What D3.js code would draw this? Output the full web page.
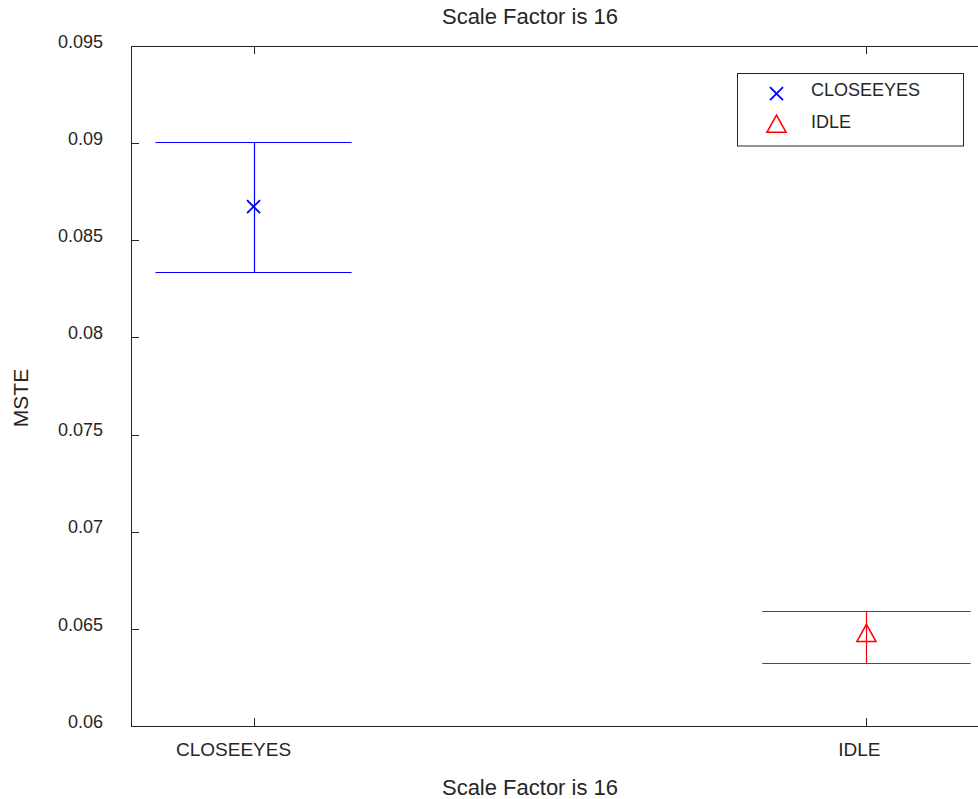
<!DOCTYPE html>
<html>
<head>
<meta charset="utf-8">
<script src="https://cdn.jsdelivr.net/npm/d3@7"></script>
<style>
  html, body { margin: 0; padding: 0; background: #fff; overflow: hidden; }
  svg { display: block; }
  text { font-family: "Liberation Sans", Arial, Helvetica, sans-serif; fill: #262626; }
</style>
</head>
<body>
<svg id="chart" width="978" height="799"></svg>
<script>
// ---- data ----
const categories = ["CLOSEEYES", "IDLE"];
const means = [0.08673, 0.06479];
const upper = [0.09006, 0.06594];
const lower = [0.08337, 0.06326];
const colors = ["#0000ff", "#ff0000"];
const markers = ["x", "triangle"];
const yTicks = [0.06, 0.065, 0.07, 0.075, 0.08, 0.085, 0.09, 0.095];
const yTickLabels = ["0.06", "0.065", "0.07", "0.075", "0.08", "0.085", "0.09", "0.095"];
const titleText = "Scale Factor is 16";
const xLabelText = "Scale Factor is 16";
const yLabelText = "MSTE";

// ---- layout ----
(function () {
const svg = d3.select("#chart");
const pLeft = 131, pRight = 989, pTop = 46, pBottom = 726;
const x = d3.scaleLinear().domain([0.8, 2.2]).range([pLeft, pRight]);
const y = d3.scaleLinear().domain([0.06, 0.095]).range([pBottom, pTop]);
const capHalf = [0.16, 0.17];
const labelDx = [-20, -7];
const axisColor = "#262626";

// axes box
svg.append("rect").attr("x", pLeft + 0.5).attr("y", pTop + 0.5)
  .attr("width", pRight - pLeft).attr("height", pBottom - pTop)
  .attr("fill", "none").attr("stroke", axisColor).attr("stroke-width", 1);

// y ticks (left, inward)
const yAxis = svg.append("g");
yTicks.forEach((t, i) => {
  const yy = Math.round(y(t)) + 0.5;
  yAxis.append("line").attr("x1", pLeft).attr("x2", pLeft + 8)
    .attr("y1", yy).attr("y2", yy).attr("stroke", axisColor);
  yAxis.append("line").attr("x1", pRight).attr("x2", pRight - 8)
    .attr("y1", yy).attr("y2", yy).attr("stroke", axisColor);
  yAxis.append("text").attr("x", 103).attr("y", y(t) - 3)
    .attr("text-anchor", "end").attr("font-size", 18)
    .attr("dominant-baseline", "middle")
    .text(yTickLabels[i]);
});

// x ticks (bottom and top, inward)
const xAxis = svg.append("g");
categories.forEach((c, i) => {
  const xx = Math.round(x(i + 1)) + 0.5;
  xAxis.append("line").attr("x1", xx).attr("x2", xx)
    .attr("y1", pBottom).attr("y2", pBottom - 8).attr("stroke", axisColor);
  xAxis.append("line").attr("x1", xx).attr("x2", xx)
    .attr("y1", pTop).attr("y2", pTop + 8).attr("stroke", axisColor);
  xAxis.append("text").attr("x", x(i + 1) + labelDx[i]).attr("y", 756)
    .attr("text-anchor", "middle").attr("font-size", 19)
    .text(c);
});

function drawMarker(sel, type, cx, cy, col) {
  if (type === "x") {
    const r = 6.5;
    sel.append("path")
      .attr("d", `M${cx - r},${cy - r}L${cx + r},${cy + r}M${cx - r},${cy + r}L${cx + r},${cy - r}`)
      .attr("stroke", col).attr("stroke-width", 1.8).attr("fill", "none");
  } else {
    const w = 9.5, h = 8.5;
    sel.append("path")
      .attr("d", `M${cx},${cy - h}L${cx + w},${cy + h}L${cx - w},${cy + h}Z`)
      .attr("stroke", col).attr("stroke-width", 1.6).attr("fill", "none");
  }
}

// error bars + markers
const g = svg.append("g");
categories.forEach((c, i) => {
  const cx = Math.round(x(i + 1)) + 0.5;
  const col = colors[i];
  const yu = Math.round(y(upper[i])) + 0.5;
  const yl = Math.round(y(lower[i])) + 0.5;
  g.append("line").attr("x1", cx).attr("x2", cx).attr("y1", yu).attr("y2", yl)
    .attr("stroke", col).attr("stroke-width", 1.2);
  [yu, yl].forEach(yy => {
    g.append("line").attr("x1", x(i + 1 - capHalf[i])).attr("x2", x(i + 1 + capHalf[i]))
      .attr("y1", yy).attr("y2", yy).attr("stroke", col).attr("stroke-width", 1.2);
  });
  drawMarker(g, markers[i], x(i + 1), y(means[i]), col);
});

// legend
const lg = svg.append("g");
lg.append("rect").attr("x", 737.5).attr("y", 73.5).attr("width", 226).attr("height", 72.5)
  .attr("fill", "#fff").attr("stroke", axisColor).attr("stroke-width", 1);
categories.forEach((c, i) => {
  const ly = 93.7 + i * 30;
  drawMarker(lg, markers[i], 776.5, ly, colors[i]);
  lg.append("text").attr("x", 811).attr("y", 95.7 + i * 32.6).attr("font-size", 18)
    .text(c);
});

// title and labels
svg.append("text").attr("x", 530).attr("y", 24).attr("text-anchor", "middle")
  .attr("font-size", 22).text(titleText);
svg.append("text").attr("x", 530).attr("y", 795).attr("text-anchor", "middle")
  .attr("font-size", 22).text(xLabelText);
svg.append("text").attr("transform", "translate(28,398) rotate(-90)")
  .attr("text-anchor", "middle").attr("font-size", 21).text(yLabelText);
})();
</script>
</body>
</html>
